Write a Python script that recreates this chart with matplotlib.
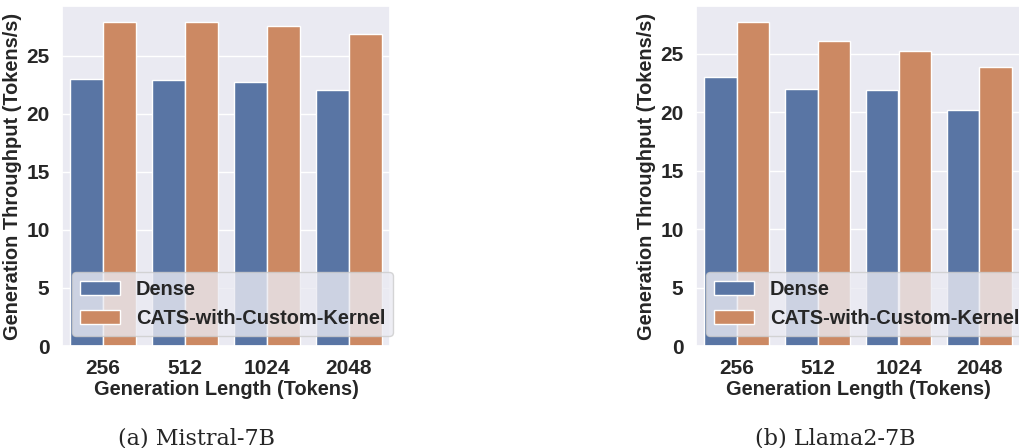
import matplotlib
matplotlib.use("Agg")
import matplotlib.pyplot as plt
import seaborn as sns
import pandas as pd

lengths = ["256", "512", "1024", "2048"]
methods = ["Dense", "CATS-with-Custom-Kernel"]
mistral_dense = [23.0, 22.95, 22.75, 22.1]
mistral_cats = [27.9, 27.9, 27.6, 26.85]
llama_dense = [23.0, 22.0, 21.9, 20.15]
llama_cats = [27.7, 26.1, 25.2, 23.85]
captions = ["(a) Mistral-7B", "(b) Llama2-7B"]

sns.set_theme(style="darkgrid")
plt.rcParams["font.family"] = ["Liberation Sans", "DejaVu Sans"]
plt.rcParams["font.weight"] = "bold"
plt.rcParams["axes.labelweight"] = "bold"

fig = plt.figure(figsize=(10.19, 4.48), dpi=100)
W, H = 1019, 448
ax1 = fig.add_axes([62 / W, 1 - 346 / H, 328 / W, 340 / H])
ax2 = fig.add_axes([696 / W, 1 - 346 / H, 324 / W, 340 / H])

def make_df(dense, cats):
    rows = []
    for l, d in zip(lengths, dense):
        rows.append({"len": l, "method": methods[0], "val": d})
    for l, c in zip(lengths, cats):
        rows.append({"len": l, "method": methods[1], "val": c})
    return pd.DataFrame(rows)

fs = 14.4
tfs = 15
for ax, dense, cats, cap in [(ax1, mistral_dense, mistral_cats, captions[0]),
                             (ax2, llama_dense, llama_cats, captions[1])]:
    df = make_df(dense, cats)
    sns.barplot(data=df, x="len", y="val", hue="method", ax=ax,
                order=lengths, hue_order=methods, errorbar=None)
    ax.set_xlabel("Generation Length (Tokens)", fontsize=fs, fontweight="bold", labelpad=2)
    ax.set_ylabel("Generation Throughput (Tokens/s)", fontsize=fs, fontweight="bold", labelpad=3)
    ax.set_yticks([0, 5, 10, 15, 20, 25])
    ax.tick_params(axis="both", labelsize=tfs, pad=3)
    for t in ax.get_xticklabels() + ax.get_yticklabels():
        t.set_fontweight("bold")
    leg = ax.legend(loc="lower left", fontsize=14.4, title=None)
    for t in leg.get_texts():
        t.set_fontweight("bold")

fig.text(197 / W, 1 - 438 / H, captions[0], ha="center", va="center",
         fontsize=16, family=["DejaVu Serif"], fontweight="normal")
fig.text(835 / W, 1 - 438 / H, captions[1], ha="center", va="center",
         fontsize=16, family=["DejaVu Serif"], fontweight="normal")

fig.savefig("out.png", dpi=100)
